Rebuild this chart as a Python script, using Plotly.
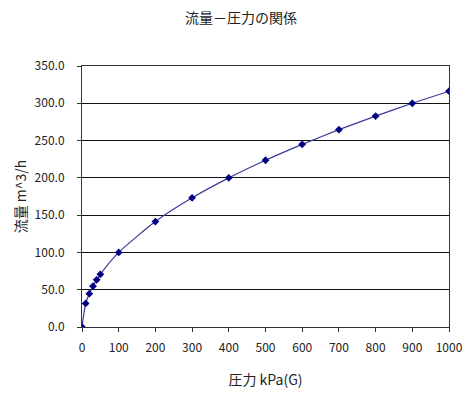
import plotly.graph_objects as go

pressure = [0, 10, 20, 30, 40, 50, 100, 200, 300, 400, 500, 600, 700, 800, 900, 1000]
flow = [0.0, 31.6, 44.7, 54.8, 63.2, 70.7, 100.0, 141.4, 173.2, 200.0, 223.6, 244.9, 264.6, 282.8, 300.0, 316.2]
x_ticks = list(range(0, 1001, 100))
y_ticks = [0, 50, 100, 150, 200, 250, 300, 350]

font_jp = "Noto Sans CJK JP"

# the page body adds 8px top/left, so the figure is drawn 8px smaller
fig = go.Figure()
fig.add_trace(go.Scatter(
    x=pressure, y=flow,
    mode="lines+markers",
    line=dict(color="#3a3a9a", width=1.2, shape="spline", smoothing=0.6),
    marker=dict(symbol="diamond", size=6, color="#000080"),
    showlegend=False,
))

fig.update_layout(
    width=466, height=397,
    margin=dict(l=74, r=25, t=58, b=78),
    paper_bgcolor="white", plot_bgcolor="white",
    font=dict(family=font_jp, size=12, color="#222"),
    title=dict(text="流量－圧力の関係", x=0.5, xanchor="center",
               y=0.975, yanchor="middle", font=dict(size=14, color="#222")),
)
fig.update_xaxes(
    range=[0, 1000], tickvals=x_ticks, ticks="outside", ticklen=4,
    tickcolor="#333", showline=True, linecolor="#333", linewidth=1,
    mirror=True, showgrid=False, zeroline=False, ticklabelstandoff=6,
    title=dict(text="圧力 kPa(G)", font=dict(size=14), standoff=20),
)
fig.update_yaxes(
    range=[0, 350], tickvals=y_ticks, tickformat=".1f", ticks="outside",
    ticklen=4, tickcolor="#333", showline=True, linecolor="#333",
    linewidth=1, mirror=True, showgrid=True, gridcolor="#111",
    gridwidth=1, zeroline=False, ticklabelstandoff=10,
    title=dict(text="流量 m^3/h", font=dict(size=14), standoff=4),
)

fig.write_html("out.html")
